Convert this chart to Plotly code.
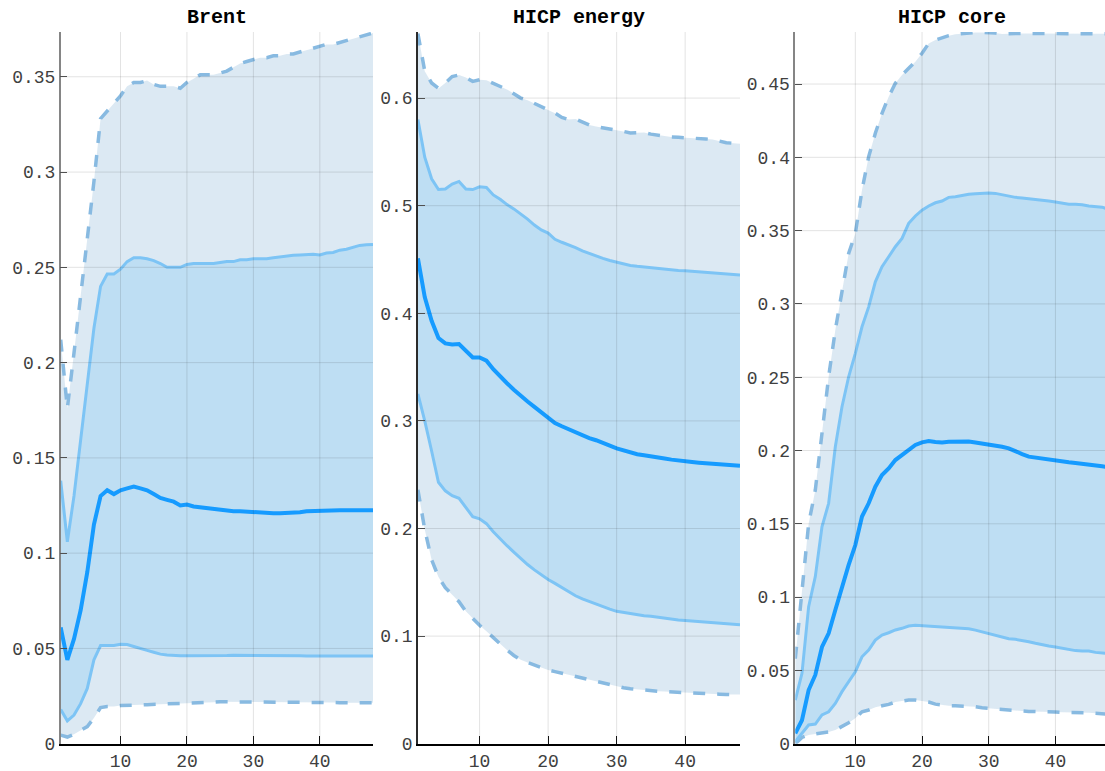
import plotly.graph_objects as go

horizon = list(range(1, 49))
titles = ["Brent", "HICP energy", "HICP core"]

# ---------------- Brent ----------------
brent_p05 = [0.0045, 0.0035, 0.005, 0.007, 0.009, 0.0135, 0.019, 0.0195, 0.0195, 0.020,
             0.020, 0.0202, 0.0204, 0.0205, 0.0206, 0.0207, 0.0208, 0.021, 0.021, 0.021,
             0.0212, 0.0214, 0.0216, 0.0218, 0.022, 0.022, 0.022, 0.022, 0.022, 0.022,
             0.022, 0.022, 0.022, 0.022, 0.022, 0.022, 0.022, 0.022, 0.0218, 0.0216,
             0.0216, 0.0216, 0.0215, 0.0215, 0.0215, 0.0215, 0.0215, 0.0215]
brent_p16 = [0.018, 0.012, 0.015, 0.021, 0.029, 0.044, 0.0515, 0.0515, 0.0515, 0.0522,
             0.052, 0.051, 0.0498, 0.049, 0.048, 0.047, 0.0466, 0.0463, 0.0462, 0.0462,
             0.0462, 0.0462, 0.0461, 0.046, 0.0462, 0.0463, 0.0464, 0.0464, 0.0463, 0.0462,
             0.0462, 0.0462, 0.0462, 0.0462, 0.0462, 0.0461, 0.0461, 0.046, 0.046, 0.046,
             0.046, 0.0459, 0.0458, 0.0458, 0.0458, 0.0458, 0.0459, 0.046]
brent_med = [0.061, 0.044, 0.055, 0.070, 0.090, 0.115, 0.130, 0.133, 0.131, 0.133,
             0.134, 0.135, 0.134, 0.133, 0.131, 0.129, 0.128, 0.127, 0.125, 0.1255,
             0.1245, 0.124, 0.1235, 0.123, 0.123, 0.1225, 0.122, 0.122, 0.1218, 0.1215,
             0.121, 0.121, 0.121, 0.121, 0.121, 0.1212, 0.1215, 0.122, 0.1222, 0.122,
             0.1222, 0.1225, 0.1225, 0.1225, 0.1225, 0.1228, 0.123, 0.1225]
brent_p84 = [0.138, 0.106, 0.130, 0.160, 0.190, 0.218, 0.240, 0.2465, 0.2465, 0.249,
             0.253, 0.255, 0.255, 0.2545, 0.2535, 0.252, 0.250, 0.250, 0.250, 0.2515,
             0.252, 0.252, 0.252, 0.252, 0.2525, 0.253, 0.253, 0.254, 0.254, 0.2545,
             0.2545, 0.2545, 0.255, 0.2555, 0.256, 0.2563, 0.2565, 0.2567, 0.2568, 0.2565,
             0.2575, 0.2578, 0.259, 0.2595, 0.2605, 0.2615, 0.2618, 0.262]
brent_p95 = [0.212, 0.176, 0.205, 0.234, 0.265, 0.295, 0.328, 0.332, 0.336, 0.340,
             0.345, 0.347, 0.347, 0.348, 0.346, 0.345, 0.345, 0.345, 0.344, 0.347,
             0.349, 0.351, 0.351, 0.351, 0.352, 0.353, 0.355, 0.357, 0.358, 0.359,
             0.360, 0.360, 0.361, 0.361, 0.362, 0.362, 0.363, 0.364, 0.365, 0.366,
             0.367, 0.367, 0.368, 0.369, 0.370, 0.371, 0.372, 0.373]

# ---------------- HICP energy ----------------
energy_p05 = [0.236, 0.199, 0.171, 0.155, 0.145, 0.138, 0.132, 0.123, 0.116, 0.110,
              0.1045, 0.0985, 0.0925, 0.087, 0.082, 0.078, 0.0755, 0.073, 0.0705, 0.0685,
              0.067, 0.0655, 0.064, 0.0625, 0.061, 0.0595, 0.058, 0.056, 0.0545, 0.053,
              0.052, 0.051, 0.0503, 0.0497, 0.0492, 0.0488, 0.0484, 0.048, 0.0477, 0.0475,
              0.0472, 0.047, 0.0467, 0.0464, 0.046, 0.0458, 0.0458, 0.0458]
energy_p16 = [0.325, 0.300, 0.272, 0.243, 0.235, 0.2305, 0.228, 0.219, 0.211, 0.209,
              0.2045, 0.197, 0.190, 0.184, 0.178, 0.172, 0.1665, 0.1615, 0.157, 0.1525,
              0.149, 0.145, 0.1415, 0.1375, 0.1345, 0.132, 0.1295, 0.127, 0.125, 0.123,
              0.122, 0.121, 0.1195, 0.119, 0.1185, 0.1175, 0.1165, 0.1155, 0.115, 0.1145,
              0.114, 0.1135, 0.113, 0.1125, 0.112, 0.1115, 0.111, 0.1105]
energy_med = [0.451, 0.415, 0.393, 0.377, 0.372, 0.371, 0.3715, 0.365, 0.359, 0.359,
              0.356, 0.348, 0.341, 0.335, 0.329, 0.323, 0.318, 0.313, 0.308, 0.302,
              0.298, 0.295, 0.292, 0.289, 0.2865, 0.284, 0.282, 0.279, 0.277, 0.2745,
              0.2725, 0.2705, 0.269, 0.268, 0.2673, 0.266, 0.265, 0.264, 0.263, 0.2625,
              0.2618, 0.2612, 0.2608, 0.2603, 0.2598, 0.2593, 0.2588, 0.2583]
energy_p84 = [0.580, 0.545, 0.525, 0.515, 0.5155, 0.520, 0.5225, 0.5155, 0.515, 0.5175,
              0.517, 0.510, 0.506, 0.501, 0.497, 0.4925, 0.4875, 0.482, 0.4775, 0.4745,
              0.4688, 0.466, 0.4638, 0.461, 0.458, 0.4555, 0.453, 0.451, 0.449, 0.4475,
              0.4458, 0.4445, 0.4437, 0.443, 0.442, 0.4413, 0.4407, 0.4402, 0.4398, 0.4395,
              0.439, 0.4385, 0.4382, 0.438, 0.4372, 0.4365, 0.436, 0.4355]
energy_p95 = [0.660, 0.625, 0.614, 0.609, 0.614, 0.620, 0.6215, 0.619, 0.6155, 0.617,
              0.6165, 0.6135, 0.611, 0.608, 0.604, 0.600, 0.598, 0.595, 0.592, 0.589,
              0.586, 0.582, 0.580, 0.5805, 0.578, 0.575, 0.5735, 0.5725, 0.5715, 0.5705,
              0.569, 0.5675, 0.5675, 0.568, 0.5665, 0.5655, 0.5645, 0.5638, 0.5635, 0.5633,
              0.563, 0.5625, 0.562, 0.5615, 0.560, 0.5585, 0.558, 0.5575]

# ---------------- HICP core ----------------
core_p05 = [0.0, 0.0043, 0.006, 0.0066, 0.0077, 0.008, 0.0093, 0.0116, 0.0143, 0.0173,
            0.0218, 0.023, 0.0248, 0.0259, 0.0268, 0.0284, 0.0293, 0.0298, 0.0298, 0.0291,
            0.0284, 0.027, 0.0264, 0.0259, 0.0259, 0.0257, 0.0259, 0.0252, 0.0245, 0.0241,
            0.0236, 0.0232, 0.0225, 0.0223, 0.0223, 0.022, 0.022, 0.0218, 0.0218, 0.0216,
            0.0214, 0.0214, 0.0214, 0.0214, 0.0211, 0.0207, 0.0205, 0.0202]
core_p16 = [0.0014, 0.007, 0.0128, 0.0134, 0.0196, 0.0218, 0.0275, 0.0355, 0.0423, 0.0491,
            0.0593, 0.0639, 0.0707, 0.0741, 0.0757, 0.0776, 0.0787, 0.0803, 0.0808, 0.0805,
            0.0803, 0.080, 0.0798, 0.0793, 0.079, 0.0788, 0.0784, 0.0775, 0.0764, 0.0748,
            0.0739, 0.0727, 0.0716, 0.0712, 0.0705, 0.0696, 0.0685, 0.0673, 0.0666, 0.066,
            0.0651, 0.0642, 0.0635, 0.0632, 0.0632, 0.0623, 0.0616, 0.0614]
core_med = [0.007, 0.016, 0.0366, 0.0469, 0.066, 0.0753, 0.0912, 0.107, 0.122, 0.1355,
            0.155, 0.164, 0.1753, 0.1833, 0.1878, 0.1935, 0.197, 0.2008, 0.2038, 0.2056,
            0.2065, 0.2058, 0.2055, 0.206, 0.2062, 0.206, 0.2062, 0.2055, 0.2048, 0.2044,
            0.2037, 0.2026, 0.2015, 0.1999, 0.1976, 0.1958, 0.1951, 0.1942, 0.1935, 0.193,
            0.1925, 0.192, 0.1915, 0.191, 0.1908, 0.1898, 0.1892, 0.1885]
core_p84 = [0.0298, 0.048, 0.0935, 0.114, 0.148, 0.164, 0.2026, 0.2299, 0.2503, 0.2663,
            0.2844, 0.298, 0.3151, 0.3254, 0.3322, 0.339, 0.3447, 0.355, 0.360, 0.364,
            0.3668, 0.369, 0.3702, 0.3727, 0.3731, 0.374, 0.3748, 0.3752, 0.3756, 0.3756,
            0.3754, 0.3745, 0.3735, 0.3727, 0.3723, 0.3718, 0.3716, 0.371, 0.3702, 0.3695,
            0.3686, 0.368, 0.368, 0.3677, 0.3668, 0.3663, 0.366, 0.3645]
core_p95 = [0.058, 0.105, 0.150, 0.173, 0.2117, 0.2503, 0.2822, 0.3095, 0.3345, 0.348,
            0.3777, 0.4004, 0.4164, 0.430, 0.4413, 0.4505, 0.4561, 0.4607, 0.4652, 0.471,
            0.4777, 0.480, 0.4816, 0.483, 0.4839, 0.4845, 0.485, 0.4852, 0.4852, 0.4852,
            0.4848, 0.4842, 0.4845, 0.4845, 0.4845, 0.4845, 0.4845, 0.4845, 0.4845, 0.4845,
            0.4844, 0.4844, 0.4843, 0.4843, 0.4843, 0.4843, 0.4843, 0.4843]

xtick_vals = [10, 20, 30, 40]
xtick_text = ["10", "20", "30", "40"]
brent_yticks = [0, 0.05, 0.1, 0.15, 0.2, 0.25, 0.3, 0.35]
brent_ytext = ["0", "0.05", "0.1", "0.15", "0.2", "0.25", "0.3", "0.35"]
energy_yticks = [0, 0.1, 0.2, 0.3, 0.4, 0.5, 0.6]
energy_ytext = ["0", "0.1", "0.2", "0.3", "0.4", "0.5", "0.6"]
core_yticks = [0, 0.05, 0.1, 0.15, 0.2, 0.25, 0.3, 0.35, 0.4, 0.45]
core_ytext = ["0", "0.05", "0.1", "0.15", "0.2", "0.25", "0.3", "0.35", "0.4", "0.45"]

panels = [
    dict(p05=brent_p05, p16=brent_p16, med=brent_med, p84=brent_p84, p95=brent_p95,
         yt=brent_yticks, ytt=brent_ytext, yr=[0, 0.3735], xr=[1, 48],
         dom=[60.7 / 1105, 373 / 1105], axc="#858585"),
    dict(p05=energy_p05, p16=energy_p16, med=energy_med, p84=energy_p84, p95=energy_p95,
         yt=energy_yticks, ytt=energy_ytext, yr=[0, 0.6614], xr=[1, 48],
         dom=[417.9 / 1105, 740 / 1105], axc="#2b2b2b"),
    dict(p05=core_p05, p16=core_p16, med=core_med, p84=core_p84, p95=core_p95,
         yt=core_yticks, ytt=core_ytext, yr=[0, 0.4855], xr=[1, 47.43],
         dom=[795.3 / 1105, 1.0], axc="#858585"),
]
title_centers = [(60.7 + 373) / 2 / 1105, (417.9 + 740) / 2 / 1105, (795.3 + 1108.7) / 2 / 1105]

OUTER_FILL = "rgba(155,192,221,0.35)"
INNER_FILL = "rgba(160,211,243,0.5)"
DASH_COL = "rgb(136,186,225)"
BAND_COL = "rgb(125,196,245)"
MED_COL = "rgb(22,155,255)"
GRID_COL = "rgba(38,38,38,0.13)"

fig = go.Figure()
mono = "Liberation Mono, Courier New, monospace"
ydom = [(771 - 743.7) / 771, (771 - 32) / 771]

for i, p in enumerate(panels):
    xa = "x" if i == 0 else f"x{i+1}"
    ya = "y" if i == 0 else f"y{i+1}"
    common = dict(x=horizon, xaxis=xa, yaxis=ya, mode="lines", showlegend=False,
                  hoverinfo="skip")
    dash_line = dict(color=DASH_COL, width=3.5, dash="12px,12px")
    fig.add_trace(go.Scatter(y=p["p05"], line=dash_line, **common))
    fig.add_trace(go.Scatter(y=p["p95"], line=dash_line, fill="tonexty",
                             fillcolor=OUTER_FILL, **common))
    fig.add_trace(go.Scatter(y=p["p16"], line=dict(color=BAND_COL, width=3), **common))
    fig.add_trace(go.Scatter(y=p["p84"], line=dict(color=BAND_COL, width=3), fill="tonexty",
                             fillcolor=INNER_FILL, **common))
    fig.add_trace(go.Scatter(y=p["med"], line=dict(color=MED_COL, width=4), **common))

    xkey = "xaxis" if i == 0 else f"xaxis{i+1}"
    ykey = "yaxis" if i == 0 else f"yaxis{i+1}"
    fig.update_layout(**{
        xkey: dict(domain=p["dom"], range=p["xr"], anchor=ya, automargin=False,
                   tickvals=xtick_vals, ticktext=xtick_text,
                   ticks="inside", ticklen=8, tickwidth=1, tickcolor="#111",
                   showline=True, linecolor="black", linewidth=2,
                   showgrid=False, zeroline=False, layer="above traces",
                   tickfont=dict(family=mono, size=18, color="#404040")),
        ykey: dict(domain=ydom, range=p["yr"], anchor=xa, automargin=False,
                   tickvals=p["yt"], ticktext=p["ytt"],
                   ticks="inside", ticklen=7, tickwidth=1, tickcolor="#555",
                   showline=True, linecolor=p["axc"], linewidth=1.5,
                   showgrid=False, zeroline=False,
                   tickfont=dict(family=mono, size=18, color="#404040")),
    })
    # grid drawn above the bands, like the original
    for xv in xtick_vals:
        if p["xr"][0] < xv < p["xr"][1]:
            fig.add_shape(type="line", xref=xa, yref=ya, x0=xv, x1=xv,
                          y0=p["yr"][0], y1=p["yr"][1], layer="above",
                          line=dict(color=GRID_COL, width=1))
    for yv in p["yt"]:
        if p["yr"][0] < yv < p["yr"][1]:
            fig.add_shape(type="line", xref=xa, yref=ya, x0=p["xr"][0], x1=p["xr"][1],
                          y0=yv, y1=yv, layer="above",
                          line=dict(color=GRID_COL, width=1))
    fig.add_annotation(text=f"<b>{titles[i]}</b>", xref="paper", yref="paper",
                       x=title_centers[i], y=(771 - 17) / 771, showarrow=False,
                       xanchor="center", yanchor="middle",
                       font=dict(family=mono, size=20, color="black"))

fig.update_layout(width=1105, height=771, margin=dict(l=0, r=0, t=0, b=0),
                  paper_bgcolor="white", plot_bgcolor="white")

fig.write_html("out.html")
